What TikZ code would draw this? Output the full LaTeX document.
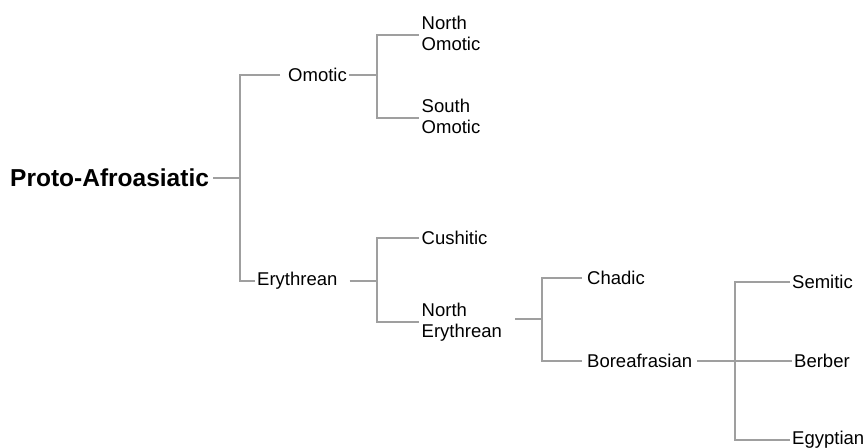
\documentclass[tikz,border=0pt]{standalone}
\usepackage{fontspec}
\setmainfont{Liberation Sans}
\tikzset{
  rama/.style={draw=gray!75, line width=2.8pt},
  lengua/.style={anchor=west, inner sep=0pt, font=\fontsize{18.5}{21}\selectfont},
  doble/.style={lengua, align=left, text depth=4pt},
}
\begin{document}
\begin{tikzpicture}[x=1pt, y=-1pt]
    \useasboundingbox (0,0) rectangle (864,447);
    % Raiz
    \node[lengua, font=\bfseries\fontsize{24.5}{28}\selectfont] (proto) at (10,178) {Proto-Afroasiatic};
    % Primer nivel
    \node[lengua] (omo) at (288,75) {Omotic};
    \node[lengua] (ery) at (257,281) {Erythrean};
    % Omotico
    \node[doble] (nom) at (421.5,35) {North\\Omotic};
    \node[doble] (som) at (421.5,118) {South\\Omotic};
    % Eritreo
    \node[lengua] (cus) at (421.5,238) {Cushitic};
    \node[doble] (ner) at (421.5,322) {North\\Erythrean};
    \node[lengua] (cha) at (587,278) {Chadic};
    \node[lengua] (bor) at (587,361) {Boreafrasian};
    % Boreafrasico
    \node[lengua] (sem) at (792,282) {Semitic};
    \node[lengua] (ber) at (794,361) {Berber};
    \node[lengua] (egy) at (792,440) {Egyptian};
    % Puntos de rama
    \coordinate (b1) at (240,178);
    \coordinate (b2) at (377,75);
    \coordinate (b3) at (377,281);
    \coordinate (b4) at (542,319);
    \coordinate (b5) at (735,361);
    % Ramas
    \draw[rama] ([xshift=4pt]proto.east) -- (b1);
    \draw[rama] ([xshift=-8pt]omo.west) -| (b1) |- ([xshift=-2pt]ery.west);
    \draw[rama] ([xshift=2pt]omo.east) -- (b2);
    \draw[rama] ([xshift=-3pt]nom.west) -| (b2) |- ([xshift=-3pt]som.west);
    \draw[rama] ([xshift=12pt]ery.east) -- (b3);
    \draw[rama] ([xshift=-3pt]cus.west) -| (b3) |- ([xshift=-3pt]ner.west);
    \draw[rama] ([xshift=13pt]ner.east |- b4) -- (b4);
    \draw[rama] ([xshift=-5pt]cha.west) -| (b4) |- ([xshift=-5pt]bor.west);
    \draw[rama] ([xshift=5pt]bor.east) -- (b5) -- ([xshift=-2pt]ber.west);
    \draw[rama] ([xshift=-2pt]sem.west) -| (b5) |- ([xshift=-2pt]egy.west);
\end{tikzpicture}
\end{document}
